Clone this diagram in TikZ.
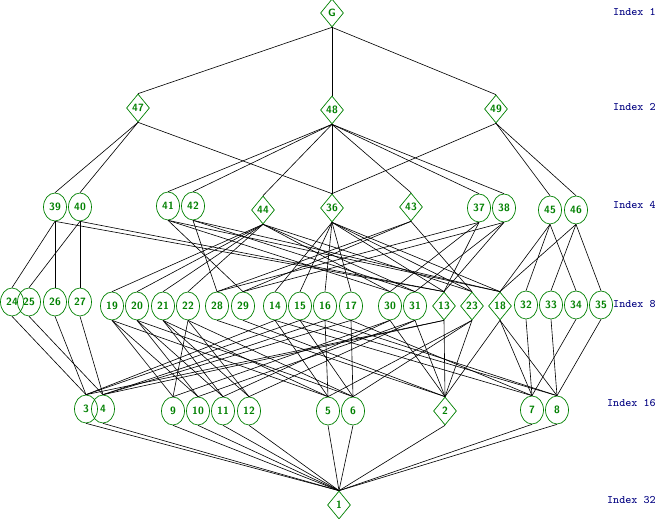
\documentclass[tikz,border=0pt]{standalone}
\usetikzlibrary{shapes.geometric}
\definecolor{ngreen}{RGB}{0,128,0}
\definecolor{inavy}{RGB}{0,0,128}
\begin{document}
\begin{tikzpicture}[x=0.02cm,y=-0.02cm,
  base/.style={draw=ngreen,text=ngreen,line width=0.4pt,inner sep=0pt,
    font=\fontsize{6}{6}\selectfont\sffamily\bfseries},
  nsub/.style={base,shape=diamond,minimum width=0.46cm,minimum height=0.56cm},
  sub/.style={base,shape=ellipse,minimum width=0.46cm,minimum height=0.56cm},
  idx/.style={text=inavy,anchor=east,inner sep=0pt,font=\fontsize{6.5}{7}\selectfont\ttfamily},
  edge/.style={line width=0.35pt,black}]
\useasboundingbox (0,0) rectangle (655,519);
% index 1
\node[nsub] (nG) at (332,13) {G};
% index 2
\node[nsub] (n47) at (138,108) {47};
\node[nsub] (n48) at (332,110) {48};
\node[nsub] (n49) at (496,109) {49};
% index 4
\node[sub] (n39) at (55,207) {39};
\node[sub] (n40) at (80,207) {40};
\node[sub] (n41) at (168,206) {41};
\node[sub] (n42) at (193,206) {42};
\node[nsub] (n44) at (263,210) {44};
\node[nsub] (n36) at (332,208) {36};
\node[nsub] (n43) at (411,207) {43};
\node[sub] (n37) at (479,208) {37};
\node[sub] (n38) at (504,208) {38};
\node[sub] (n45) at (550,210) {45};
\node[sub] (n46) at (576,210) {46};
% index 8
\node[sub] (n24) at (12,302) {24};
\node[sub] (n25) at (29,302) {25};
\node[sub] (n26) at (55,302) {26};
\node[sub] (n27) at (80,302) {27};
\node[sub] (n19) at (112,306) {19};
\node[sub] (n20) at (137,306) {20};
\node[sub] (n21) at (163,306) {21};
\node[sub] (n22) at (188,306) {22};
\node[sub] (n28) at (217,306) {28};
\node[sub] (n29) at (243,306) {29};
\node[sub] (n14) at (275,306) {14};
\node[sub] (n15) at (300,306) {15};
\node[sub] (n16) at (325,306) {16};
\node[sub] (n17) at (351,306) {17};
\node[sub] (n30) at (390,306) {30};
\node[sub] (n31) at (415,306) {31};
\node[nsub] (n13) at (444,306) {13};
\node[nsub] (n23) at (472,306) {23};
\node[nsub] (n18) at (500,306) {18};
\node[sub] (n32) at (526,305) {32};
\node[sub] (n33) at (551,305) {33};
\node[sub] (n34) at (576,305) {34};
\node[sub] (n35) at (601,305) {35};
% index 16
\node[sub] (n3) at (86,409) {3};
\node[sub] (n4) at (103,409) {4};
\node[sub] (n9) at (173,411) {9};
\node[sub] (n10) at (198,411) {10};
\node[sub] (n11) at (223,411) {11};
\node[sub] (n12) at (249,411) {12};
\node[sub] (n5) at (328,411) {5};
\node[sub] (n6) at (353,411) {6};
\node[nsub] (n2) at (445,411) {2};
\node[sub] (n7) at (532,410) {7};
\node[sub] (n8) at (557,410) {8};
% index 32
\node[nsub] (n1) at (339,505) {1};
% index labels
\node[idx] at (656,12) {Index 1};
\node[idx] at (656,107) {Index 2};
\node[idx] at (656,205) {Index 4};
\node[idx] at (656,304) {Index 8};
\node[idx] at (656,403) {Index 16};
\node[idx] at (656,500) {Index 32};
% edges
\foreach \a/\b in {G/47,G/48,G/49,
  47/39,47/40,47/36,
  48/41,48/42,48/44,48/36,48/43,48/37,48/38,
  49/36,49/45,49/46,
  39/24,39/26,39/13, 40/25,40/27,40/13,
  41/29,41/18,41/30, 42/28,42/18,42/31,
  37/13,37/28,37/30, 38/13,38/29,38/31,
  44/19,44/20,44/21,44/22,44/30,44/31,44/23,
  36/13,36/23,36/18,36/14,36/15,36/16,36/17,
  43/23,43/28,43/29,
  45/18,45/32,45/34, 46/18,46/33,46/35,
  24/3,26/3,25/4,27/4,
  19/5,19/9,19/10, 20/6,20/10,20/11, 21/5,21/11,21/12, 22/6,22/9,22/12,
  28/2,29/2, 30/2,30/9,30/11, 31/2,31/10,31/12,
  14/5,14/3,14/7, 15/6,15/3,15/8, 16/5,16/4,16/8, 17/6,17/4,17/7,
  13/2,13/3,13/4, 23/2,23/5,23/6, 18/2,18/7,18/8,
  32/7,34/7,33/8,35/8,
  2/1,3/1,4/1,5/1,6/1,7/1,8/1,9/1,10/1,11/1,12/1}
  \draw[edge] (n\a.south) -- (n\b.north);
\end{tikzpicture}
\end{document}
